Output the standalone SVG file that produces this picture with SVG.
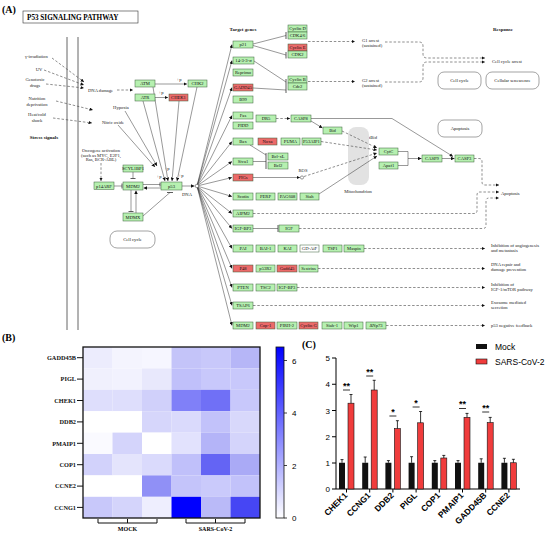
<svg xmlns="http://www.w3.org/2000/svg" width="550" height="540" viewBox="0 0 550 540">
<defs>
<marker id="ar" viewBox="0 0 6 6" refX="6" refY="3" markerWidth="3.5" markerHeight="3.5" markerUnits="userSpaceOnUse" orient="auto"><path d="M0,0L6,3L0,6z" fill="#111"/></marker>
<linearGradient id="cb" x1="0" y1="0" x2="0" y2="1"><stop offset="0" stop-color="#0000ff"/><stop offset="1" stop-color="#ffffff"/></linearGradient>
</defs>
<style>
.bx{stroke:#3a5f3a;stroke-width:0.5}
.g{fill:#b6f0b0}
.r{fill:#ec6a6a}
.w{fill:#ffffff}
.t{font-family:'Liberation Serif',serif;font-size:4.6px;text-anchor:middle;fill:#111}
.s{font-family:'Liberation Serif',serif;font-size:4.6px;fill:#222}
.sc{font-family:'Liberation Serif',serif;font-size:4.6px;fill:#222;text-anchor:middle}
.hd{font-family:'Liberation Serif',serif;font-size:5px;font-weight:bold;fill:#111;text-anchor:middle}
.ln{stroke:#333;stroke-width:0.5;fill:none}
.br{stroke:#333;stroke-width:0.8;fill:none}
.ds{stroke:#444;stroke-width:0.6;fill:none;stroke-dasharray:2.5,1.8}
.rb{fill:#fff;stroke:#666;stroke-width:0.6}
.pl{font-family:'Liberation Serif',serif;font-size:10px;font-weight:bold;fill:#000}
.gl{font-family:'Liberation Serif',serif;font-size:6.3px;font-weight:bold;fill:#111;text-anchor:end}
.ax{stroke:#000;stroke-width:1;fill:none}
.tk{font-family:'Liberation Sans',Arial,sans-serif;font-size:8px;fill:#000}
.xl{font-family:'Liberation Sans',Arial,sans-serif;font-size:8.5px;font-weight:bold;fill:#000;text-anchor:end}
.st{font-family:'Liberation Sans',Arial,sans-serif;font-size:9px;font-weight:bold;fill:#000;text-anchor:middle}
.bk{fill:#111}
.rd{fill:#f03c3c;stroke:#111;stroke-width:0.6}
.eb{stroke:#000;stroke-width:0.8;fill:none}
</style>
<rect width="550" height="540" fill="#fff"/>

<text class="pl" x="2" y="13">(A)</text>
<g id="title"><rect x="23" y="11" width="115" height="12" fill="#fff" stroke="#333" stroke-width="0.6"/><text x="27" y="20" font-family="'Liberation Serif',serif" font-size="7.2px" font-weight="bold">P53 SIGNALING PATHWAY</text></g>

<g id="membrane"><line x1="67" y1="37" x2="67" y2="330" stroke="#666" stroke-width="1"/><line x1="78" y1="37" x2="78" y2="330" stroke="#666" stroke-width="1"/></g>

<g id="labels">
<text class="hd" x="243" y="31">Target genes</text>
<text class="hd" x="503" y="31">Response</text>
<text class="hd" x="44" y="139">Stress signals</text>
<text class="s" x="25" y="58">γ-irradiation</text>
<text class="sc" x="39" y="71">UV</text>
<text class="sc" x="35" y="81">Genotoxic</text><text class="sc" x="35" y="87">drugs</text>
<text class="sc" x="37" y="100">Nutrition</text><text class="sc" x="37" y="106">deprivation</text>
<text class="sc" x="37" y="116">Heat/cold</text><text class="sc" x="37" y="122">shock</text>
<text class="s" x="88" y="92">DNA damage</text>
<text class="sc" x="121" y="109">Hypoxia</text>
<text class="sc" x="113" y="124">Nitric oxide</text>
<text class="sc" x="101" y="152">Oncogene activation</text>
<text class="sc" x="101" y="156.5">(such as MYC, E2F1,</text>
<text class="sc" x="101" y="161">Ras, BCR-ABL)</text>
<text class="sc" x="179" y="81">+p</text>
<text class="sc" x="161" y="94">+p</text>
<text class="sc" x="159" y="178">+p</text>
<text class="sc" x="167" y="170">+p</text>
<text class="sc" x="181" y="177">+p</text>
<text class="sc" x="187" y="196">DNA</text>
<text class="sc" x="303" y="172">ROS</text>
<text class="sc" x="373" y="139">tBid</text>
<text class="s" x="362" y="42">G1 arrest</text><text class="s" x="362" y="47">(sustained)</text>
<text class="s" x="362" y="82">G2 arrest</text><text class="s" x="362" y="87">(sustained)</text>
<text class="s" x="492" y="63">Cell cycle arrest</text>
<text class="s" x="501" y="195">Apoptosis</text>
<text class="s" x="491" y="247">Inhibition of angiogenesis</text><text class="s" x="491" y="252">and metastasis</text>
<text class="s" x="491" y="266">DNA repair and</text><text class="s" x="491" y="271">damage prevention</text>
<text class="s" x="491" y="285.5">Inhibition of</text><text class="s" x="491" y="290.5">IGF-1/mTOR pathway</text>
<text class="s" x="491" y="303.5">Exosome mediated</text><text class="s" x="491" y="308.5">secretion</text>
<text class="s" x="491" y="327">p53 negative feedback</text>
</g>

<g id="n-mito"><rect x="348" y="127" width="21" height="58" rx="8" fill="#e2e2e2"/><text class="sc" x="358" y="193">Mitochondrion</text></g>

<g id="connectors">
<line class="ds" x1="52" y1="58" x2="84" y2="82" marker-end="url(#ar)"/>
<line class="ds" x1="44" y1="70" x2="84" y2="85" marker-end="url(#ar)"/>
<line class="ds" x1="46" y1="84" x2="84" y2="88" marker-end="url(#ar)"/>
<line class="ds" x1="56" y1="101" x2="93" y2="110" marker-end="url(#ar)"/>
<line class="ds" x1="53" y1="118" x2="92" y2="123" marker-end="url(#ar)"/>
<line class="ds" x1="117" y1="90" x2="133" y2="90" marker-end="url(#ar)"/>
<line class="ln" x1="125" y1="111" x2="157" y2="166" marker-end="url(#ar)"/>
<line class="ln" x1="118" y1="125" x2="155" y2="167" marker-end="url(#ar)"/>
<line class="ln" x1="153" y1="87" x2="168" y2="181" marker-end="url(#ar)"/>
<line class="ln" x1="143" y1="101" x2="165" y2="181" marker-end="url(#ar)"/>
<line class="ln" x1="179" y1="101" x2="172" y2="181" marker-end="url(#ar)"/>
<line class="ln" x1="197" y1="87" x2="177" y2="181" marker-end="url(#ar)"/>
<line class="ln" x1="155" y1="84" x2="187" y2="84" marker-end="url(#ar)"/>
<line class="ln" x1="155" y1="97.5" x2="168" y2="97.5" marker-end="url(#ar)"/>
<line class="ds" x1="101" y1="163" x2="101" y2="181" marker-end="url(#ar)"/>
<path class="ln" d="M114,186H122"/><path class="br" d="M122,183.5V188.5"/>
<path class="ln" d="M133,172V178.5"/><path class="br" d="M130.5,178.5H135.5"/>
<path class="ln" d="M143,184.5H160"/><path class="br" d="M160,182.5V186.5"/>
<line class="ln" x1="161" y1="188" x2="143.5" y2="188" marker-end="url(#ar)"/>
<path class="ln" d="M131,190V211.5"/><path class="br" d="M128.5,211.5H133.5"/>
<line class="ln" x1="136" y1="213" x2="136" y2="190.5" marker-end="url(#ar)"/>
<path class="ln" d="M143,216L170,192.5"/><path class="br" d="M167,192.5H173"/>
<line class="ln" x1="182" y1="186" x2="194.5" y2="186" marker-end="url(#ar)"/>
<g>
<line class="ln" x1="197" y1="186" x2="232" y2="44.5" marker-end="url(#ar)"/>
<line class="ln" x1="197" y1="186" x2="232" y2="60.5" marker-end="url(#ar)"/>
<line class="ln" x1="197" y1="186" x2="232" y2="87.5" marker-end="url(#ar)"/>
<line class="ln" x1="197" y1="186" x2="232" y2="115.5" marker-end="url(#ar)"/>
<line class="ln" x1="197" y1="186" x2="232" y2="141.5" marker-end="url(#ar)"/>
<line class="ln" x1="197" y1="186" x2="232" y2="161.5" marker-end="url(#ar)"/>
<line class="ln" x1="197" y1="186" x2="232" y2="177.5" marker-end="url(#ar)"/>
<line class="ln" x1="197" y1="186" x2="232" y2="196.5" marker-end="url(#ar)"/>
<line class="ln" x1="197" y1="186" x2="232" y2="213.5" marker-end="url(#ar)"/>
<line class="ln" x1="197" y1="186" x2="232" y2="228.5" marker-end="url(#ar)"/>
<line class="ln" x1="197" y1="186" x2="232" y2="248.5" marker-end="url(#ar)"/>
<line class="ln" x1="197" y1="186" x2="232" y2="268.5" marker-end="url(#ar)"/>
<line class="ln" x1="197" y1="186" x2="232" y2="287.5" marker-end="url(#ar)"/>
<line class="ln" x1="197" y1="186" x2="232" y2="305.5" marker-end="url(#ar)"/>
<line class="ln" x1="197" y1="186" x2="232" y2="325.5" marker-end="url(#ar)"/>
</g>
<path class="ln" d="M253,44L286,35.5M253,45.5L286,55M254,61L286,82M253,88L286,90"/>
<path class="br" d="M286,32V39M286,52V58.5M286,79V93"/>
<line class="ds" x1="308" y1="41.5" x2="355" y2="41.5" marker-end="url(#ar)"/>
<line class="ds" x1="308" y1="81.5" x2="355" y2="81.5" marker-end="url(#ar)"/>
<path class="ds" d="M385,42H419Q423,42 423,46V54Q423,58 427,58H485" marker-end="url(#ar)"/>
<path class="ds" d="M385,82H419Q423,82 423,78V66Q423,62 427,62H485" marker-end="url(#ar)"/>
<line class="ds" x1="276" y1="118.5" x2="290" y2="118.5" marker-end="url(#ar)"/>
<path class="ln" d="M311,118.5H392L453,156.5" marker-end="url(#ar)"/>
<line class="ln" x1="311" y1="121" x2="322.5" y2="128" marker-end="url(#ar)"/>
<line class="ds" x1="342" y1="131" x2="377" y2="148" marker-end="url(#ar)"/>
<line class="ds" x1="321" y1="141.5" x2="377" y2="150" marker-end="url(#ar)"/>
<line class="ds" x1="304" y1="176.5" x2="377" y2="153" marker-end="url(#ar)"/>
<line class="ln" x1="319" y1="194" x2="377" y2="156" marker-end="url(#ar)"/>
<line class="ln" x1="253" y1="177.5" x2="300" y2="177.5" marker-end="url(#ar)"/>
<circle cx="302" cy="177.5" r="1.6" fill="#fff" stroke="#333" stroke-width="0.5"/>
<circle cx="197" cy="186" r="1.8" fill="#fff" stroke="#333" stroke-width="0.5"/>
<path class="ln" d="M250,145L266,155M253,161.5H266"/>
<path class="br" d="M266,153V169"/>
<path class="ln" d="M398,151.5H408V165.5H398"/>
<line class="ln" x1="408" y1="158.5" x2="421.5" y2="158.5" marker-end="url(#ar)"/>
<line class="ln" x1="442" y1="158.5" x2="454.5" y2="158.5" marker-end="url(#ar)"/>
<path class="ds" d="M474,158.5H479Q482,158.5 482,161.5V182Q482,185 485,185H499" marker-end="url(#ar)"/>
<path class="ds" d="M253,213.5H474Q477,213.5 477,210.5V195Q477,192 480,192H499" marker-end="url(#ar)"/>
<path class="ln" d="M253,228.5H278"/><path class="br" d="M278,225V232"/>
<path class="ds" d="M299,228.5H483Q486,228.5 486,225.5V201Q486,198 489,198H499" marker-end="url(#ar)"/>
<line class="ds" x1="364" y1="248.5" x2="485" y2="248.5" marker-end="url(#ar)"/>
<line class="ds" x1="318" y1="268.5" x2="485" y2="268.5" marker-end="url(#ar)"/>
<line class="ds" x1="297" y1="287.5" x2="485" y2="287.5" marker-end="url(#ar)"/>
<line class="ds" x1="253" y1="305.5" x2="485" y2="305.5" marker-end="url(#ar)"/>
<line class="ds" x1="386" y1="325.5" x2="485" y2="325.5" marker-end="url(#ar)"/>
</g>

<g id="n-ATM"><rect class="bx g" x="135" y="80" width="20" height="7"/><text class="t" x="145" y="85.3">ATM</text></g>
<g id="n-ATR"><rect class="bx g" x="135" y="94" width="20" height="7"/><text class="t" x="145" y="99.3">ATR</text></g>
<g id="n-CHEK1"><rect class="bx r" x="169" y="94" width="19" height="7"/><text class="t" x="178.5" y="99.3">CHEK1</text></g>
<g id="n-CHK2"><rect class="bx g" x="188" y="80" width="19" height="7"/><text class="t" x="197.5" y="85.3">CHK2</text></g>
<g id="n-p14ARF"><rect class="bx g" x="94" y="182" width="20" height="7.5"/><text class="t" x="104" y="187.5">p14ARF</text></g>
<g id="n-MDM2a"><rect class="bx g" x="123" y="182" width="20" height="8"/><text class="t" x="133" y="187.6">MDM2</text></g>
<g id="n-SCYL1BP1"><rect class="bx g" x="123" y="165" width="20" height="7"/><text class="t" x="133" y="170.3">SCYL1BP1</text></g>
<g id="n-MDMX"><rect class="bx g" x="123" y="213" width="20" height="8"/><text class="t" x="133" y="218.6">MDMX</text></g>
<g id="n-p53"><rect class="bx g" x="161" y="182" width="21" height="8"/><text class="t" x="171.5" y="187.6">p53</text></g>
<g id="n-cellcycle1"><rect class="rb" x="110" y="231" width="45" height="17" rx="7"/><text class="t" x="132.5" y="241">Cell cycle</text></g>

<g id="n-CyclinD"><rect class="bx g" x="288" y="25" width="19" height="7"/><text class="t" x="297.5" y="30.3">Cyclin D</text></g>
<g id="n-CDK46"><rect class="bx g" x="288" y="32" width="19" height="7"/><text class="t" x="297.5" y="37.3">CDK4/6</text></g>
<g id="n-CyclinE"><rect class="bx r" x="288" y="44" width="19" height="7"/><text class="t" x="297.5" y="49.3">Cyclin E</text></g>
<g id="n-CDK2"><rect class="bx g" x="288" y="51" width="19" height="7"/><text class="t" x="297.5" y="56.3">CDK2</text></g>
<g id="n-CyclinB"><rect class="bx g" x="288" y="76" width="19" height="7"/><text class="t" x="297.5" y="81.3">Cyclin B</text></g>
<g id="n-Cdc2"><rect class="bx g" x="288" y="83" width="19" height="7"/><text class="t" x="297.5" y="88.3">Cdc2</text></g>
<g id="n-cellcycle2"><rect class="rb" x="438" y="72" width="43" height="17" rx="6"/><text class="t" x="459.5" y="82">Cell cycle</text></g>
<g id="n-senescence"><rect class="rb" x="486" y="72" width="53" height="17" rx="6"/><text class="t" x="512.5" y="82">Cellular senescence</text></g>
<g id="n-apoptosisbox"><rect class="rb" x="438" y="120" width="44" height="17" rx="6"/><text class="t" x="460" y="130">Apoptosis</text></g>

<g id="n-p21"><rect class="bx g" x="233" y="41" width="20" height="7"/><text class="t" x="243" y="46.3">p21</text></g>
<g id="n-1433"><rect class="bx g" x="233" y="57" width="21" height="7"/><text class="t" x="243.5" y="62.3">14-3-3-σ</text></g>
<g id="n-Reprimo"><rect class="bx g" x="233" y="69" width="20" height="7"/><text class="t" x="243" y="74.3">Reprimo</text></g>
<g id="n-GADD45"><rect class="bx r" x="233" y="84" width="20" height="7"/><text class="t" x="243" y="89.3">GADD45</text></g>
<g id="n-B99"><rect class="bx g" x="233" y="96" width="20" height="7"/><text class="t" x="243" y="101.3">B99</text></g>
<g id="n-Fas"><rect class="bx g" x="233" y="112" width="20" height="7"/><text class="t" x="243" y="117.3">Fas</text></g>
<g id="n-PIDD"><rect class="bx g" x="233" y="122" width="20" height="7"/><text class="t" x="243" y="127.3">PIDD</text></g>
<g id="n-DR5"><rect class="bx g" x="256" y="115" width="20" height="7"/><text class="t" x="266" y="120.3">DR5</text></g>
<g id="n-CASP8"><rect class="bx g" x="291" y="115" width="20" height="7"/><text class="t" x="301" y="120.3">CASP8</text></g>
<g id="n-Bid"><rect class="bx g" x="323" y="127" width="19" height="7"/><text class="t" x="332.5" y="132.3">Bid</text></g>
<g id="n-Bax"><rect class="bx g" x="233" y="138" width="20" height="7"/><text class="t" x="243" y="143.3">Bax</text></g>
<g id="n-Noxa"><rect class="bx r" x="258" y="138" width="19" height="7"/><text class="t" x="267.5" y="143.3">Noxa</text></g>
<g id="n-PUMA"><rect class="bx g" x="281" y="138" width="19" height="7"/><text class="t" x="290.5" y="143.3">PUMA</text></g>
<g id="n-P53AIP1"><rect class="bx g" x="302" y="138" width="19" height="7"/><text class="t" x="311.5" y="143.3">P53AIP1</text></g>
<g id="n-Siva"><rect class="bx g" x="233" y="158" width="20" height="7"/><text class="t" x="243" y="163.3">Siva1</text></g>
<g id="n-BclxL"><rect class="bx g" x="268" y="153" width="20" height="7"/><text class="t" x="278" y="158.3">Bcl-xL</text></g>
<g id="n-Bcl2"><rect class="bx g" x="268" y="162" width="20" height="7"/><text class="t" x="278" y="167.3">Bcl2</text></g>
<g id="n-PIGs"><rect class="bx r" x="233" y="174" width="20" height="7"/><text class="t" x="243" y="179.3">PIGs</text></g>
<g id="n-CytC"><rect class="bx g" x="379" y="148" width="19" height="7"/><text class="t" x="388.5" y="153.3">CytC</text></g>
<g id="n-Apaf1"><rect class="bx g" x="379" y="162" width="19" height="7"/><text class="t" x="388.5" y="167.3">Apaf1</text></g>
<g id="n-CASP9"><rect class="bx g" x="422" y="155" width="20" height="7"/><text class="t" x="432" y="160.3">CASP9</text></g>
<g id="n-CASP3"><rect class="bx g" x="455" y="155" width="19" height="7"/><text class="t" x="464.5" y="160.3">CASP3</text></g>
<g id="n-Scotin"><rect class="bx g" x="233" y="193" width="20" height="7"/><text class="t" x="243" y="198.3">Scotin</text></g>
<g id="n-PERP"><rect class="bx g" x="256" y="193" width="19" height="7"/><text class="t" x="265.5" y="198.3">PERP</text></g>
<g id="n-PAG608"><rect class="bx g" x="278" y="193" width="19" height="7"/><text class="t" x="287.5" y="198.3">PAG608</text></g>
<g id="n-Siah"><rect class="bx g" x="300" y="193" width="19" height="7"/><text class="t" x="309.5" y="198.3">Siah</text></g>
<g id="n-AIPM2"><rect class="bx g" x="233" y="210" width="20" height="7"/><text class="t" x="243" y="215.3">AIPM2</text></g>
<g id="n-IGFBP3a"><rect class="bx g" x="233" y="225" width="20" height="7"/><text class="t" x="243" y="230.3">IGF-BP3</text></g>
<g id="n-IGF"><rect class="bx g" x="279" y="225" width="20" height="7"/><text class="t" x="289" y="230.3">IGF</text></g>
<g id="n-PAI"><rect class="bx g" x="233" y="245" width="20" height="7"/><text class="t" x="243" y="250.3">PAI</text></g>
<g id="n-BAI1"><rect class="bx g" x="256" y="245" width="19" height="7"/><text class="t" x="265.5" y="250.3">BAI-1</text></g>
<g id="n-KAI"><rect class="bx g" x="278" y="245" width="19" height="7"/><text class="t" x="287.5" y="250.3">KAI</text></g>
<g id="n-GDAiF"><rect class="bx w" x="300" y="245" width="19" height="7"/><text class="t" x="309.5" y="250.3">GD-AiF</text></g>
<g id="n-TSP1"><rect class="bx g" x="323" y="245" width="19" height="7"/><text class="t" x="332.5" y="250.3">TSP1</text></g>
<g id="n-Maspin"><rect class="bx g" x="344" y="245" width="20" height="7"/><text class="t" x="354" y="250.3">Maspin</text></g>
<g id="n-P48"><rect class="bx r" x="233" y="265" width="20" height="7"/><text class="t" x="243" y="270.3">P48</text></g>
<g id="n-p53R2"><rect class="bx g" x="256" y="265" width="19" height="7"/><text class="t" x="265.5" y="270.3">p53R2</text></g>
<g id="n-Gadd45b"><rect class="bx r" x="277" y="265" width="20" height="7"/><text class="t" x="287" y="270.3">Gadd45</text></g>
<g id="n-Sestrins"><rect class="bx g" x="299" y="265" width="19" height="7"/><text class="t" x="308.5" y="270.3">Sestrins</text></g>
<g id="n-PTEN"><rect class="bx g" x="233" y="284" width="20" height="7"/><text class="t" x="243" y="289.3">PTEN</text></g>
<g id="n-TSC2"><rect class="bx g" x="256" y="284" width="19" height="7"/><text class="t" x="265.5" y="289.3">TSC2</text></g>
<g id="n-IGFBP3b"><rect class="bx g" x="277" y="284" width="20" height="7"/><text class="t" x="287" y="289.3">IGF-BP3</text></g>
<g id="n-TSAP6"><rect class="bx g" x="233" y="302" width="20" height="7"/><text class="t" x="243" y="307.3">TSAP6</text></g>
<g id="n-MDM2b"><rect class="bx g" x="233" y="322" width="20" height="7"/><text class="t" x="243" y="327.3">MDM2</text></g>
<g id="n-Cop1"><rect class="bx r" x="256" y="322" width="19" height="7"/><text class="t" x="265.5" y="327.3">Cop-1</text></g>
<g id="n-PIRH2"><rect class="bx g" x="277" y="322" width="20" height="7"/><text class="t" x="287" y="327.3">PIRH-2</text></g>
<g id="n-CyclinG"><rect class="bx r" x="299" y="322" width="19" height="7"/><text class="t" x="308.5" y="327.3">Cyclin G</text></g>
<g id="n-Siah1"><rect class="bx g" x="322" y="322" width="20" height="7"/><text class="t" x="332" y="327.3">Siah-1</text></g>
<g id="n-Wip1"><rect class="bx g" x="344" y="322" width="19" height="7"/><text class="t" x="353.5" y="327.3">Wip1</text></g>
<g id="n-dNp73"><rect class="bx g" x="366" y="322" width="20" height="7"/><text class="t" x="376" y="327.3">ΔNp73</text></g>

<text class="pl" x="2" y="341">(B)</text>
<g id="heatmap">
<g>
<rect x="83" y="347" width="29.5" height="21.4" fill="#ececfd"/><rect x="112.5" y="347" width="29.5" height="21.4" fill="#f4f4fe"/><rect x="142" y="347" width="29.5" height="21.4" fill="#f6f6ff"/><rect x="171.5" y="347" width="29.5" height="21.4" fill="#c4c4f9"/><rect x="201" y="347" width="29.5" height="21.4" fill="#c8c8fa"/><rect x="230.5" y="347" width="29.5" height="21.4" fill="#b6b6f7"/>
<rect x="83" y="368.4" width="29.5" height="21.4" fill="#f0f0fd"/><rect x="112.5" y="368.4" width="29.5" height="21.4" fill="#f2f2fe"/><rect x="142" y="368.4" width="29.5" height="21.4" fill="#e8e8fc"/><rect x="171.5" y="368.4" width="29.5" height="21.4" fill="#c0c0fa"/><rect x="201" y="368.4" width="29.5" height="21.4" fill="#c8c8fb"/><rect x="230.5" y="368.4" width="29.5" height="21.4" fill="#c8c8fb"/>
<rect x="83" y="389.8" width="29.5" height="21.4" fill="#dedefc"/><rect x="112.5" y="389.8" width="29.5" height="21.4" fill="#dedefc"/><rect x="142" y="389.8" width="29.5" height="21.4" fill="#d0d0fa"/><rect x="171.5" y="389.8" width="29.5" height="21.4" fill="#8080f8"/><rect x="201" y="389.8" width="29.5" height="21.4" fill="#7070f6"/><rect x="230.5" y="389.8" width="29.5" height="21.4" fill="#c8c8fb"/>
<rect x="83" y="411.2" width="29.5" height="21.4" fill="#ffffff"/><rect x="112.5" y="411.2" width="29.5" height="21.4" fill="#ffffff"/><rect x="142" y="411.2" width="29.5" height="21.4" fill="#d6d6fb"/><rect x="171.5" y="411.2" width="29.5" height="21.4" fill="#dadafc"/><rect x="201" y="411.2" width="29.5" height="21.4" fill="#c2c2fa"/><rect x="230.5" y="411.2" width="29.5" height="21.4" fill="#d8d8fb"/>
<rect x="83" y="432.6" width="29.5" height="21.4" fill="#fafaff"/><rect x="112.5" y="432.6" width="29.5" height="21.4" fill="#d4d4fb"/><rect x="142" y="432.6" width="29.5" height="21.4" fill="#ffffff"/><rect x="171.5" y="432.6" width="29.5" height="21.4" fill="#e2e2fd"/><rect x="201" y="432.6" width="29.5" height="21.4" fill="#b4b4f8"/><rect x="230.5" y="432.6" width="29.5" height="21.4" fill="#d4d4fb"/>
<rect x="83" y="454" width="29.5" height="21.4" fill="#d2d2fb"/><rect x="112.5" y="454" width="29.5" height="21.4" fill="#e4e4fc"/><rect x="142" y="454" width="29.5" height="21.4" fill="#dadafc"/><rect x="171.5" y="454" width="29.5" height="21.4" fill="#c0c0fa"/><rect x="201" y="454" width="29.5" height="21.4" fill="#6464f4"/><rect x="230.5" y="454" width="29.5" height="21.4" fill="#aaaaf6"/>
<rect x="83" y="475.4" width="29.5" height="21.4" fill="#ffffff"/><rect x="112.5" y="475.4" width="29.5" height="21.4" fill="#ffffff"/><rect x="142" y="475.4" width="29.5" height="21.4" fill="#9090f6"/><rect x="171.5" y="475.4" width="29.5" height="21.4" fill="#c4c4fa"/><rect x="201" y="475.4" width="29.5" height="21.4" fill="#cacafb"/><rect x="230.5" y="475.4" width="29.5" height="21.4" fill="#c2c2fa"/>
<rect x="83" y="496.8" width="29.5" height="21.2" fill="#c8c8fa"/><rect x="112.5" y="496.8" width="29.5" height="21.2" fill="#d4d4fb"/><rect x="142" y="496.8" width="29.5" height="21.2" fill="#eeeefe"/><rect x="171.5" y="496.8" width="29.5" height="21.2" fill="#0000ff"/><rect x="201" y="496.8" width="29.5" height="21.2" fill="#babaf8"/><rect x="230.5" y="496.8" width="29.5" height="21.2" fill="#4646f4"/>
</g>
<rect x="83" y="347" width="177" height="171" fill="none" stroke="#111" stroke-width="1.3"/>
<path d="M77,357.7H83M77,379.1H83M77,400.5H83M77,421.9H83M77,443.3H83M77,464.7H83M77,486.1H83M77,507.4H83" stroke="#111" stroke-width="1"/>
<text class="gl" x="76" y="360">GADD45B</text>
<text class="gl" x="76" y="381.4">PIGL</text>
<text class="gl" x="76" y="402.8">CHEK1</text>
<text class="gl" x="76" y="424.2">DDB2</text>
<text class="gl" x="76" y="445.6">PMAIP1</text>
<text class="gl" x="76" y="467">COP1</text>
<text class="gl" x="76" y="488.4">CCNE2</text>
<text class="gl" x="76" y="509.7">CCNG1</text>
<path d="M98,519V523H157V519M127.5,523V519M186,519V523H245V519M215.5,523V519" fill="none" stroke="#111" stroke-width="1"/>
<text x="127.5" y="531" font-family="'Liberation Serif',serif" font-size="6px" font-weight="bold" text-anchor="middle">MOCK</text>
<text x="215.5" y="531" font-family="'Liberation Serif',serif" font-size="6px" font-weight="bold" text-anchor="middle">SARS-CoV-2</text>
<rect x="276" y="347" width="8" height="171" fill="url(#cb)" stroke="#111" stroke-width="0.8"/>
<path d="M284,360.5H287M284,413H287M284,465.5H287M284,518H287" stroke="#111" stroke-width="0.8"/>
<text class="tk" x="292" y="363.5">6</text>
<text class="tk" x="292" y="416">4</text>
<text class="tk" x="292" y="468.5">2</text>
<text class="tk" x="292" y="521">0</text>
</g>

<text class="pl" x="302" y="348">(C)</text>
<g id="barchart">
<path class="ax" d="M336,358V489H520"/>
<path d="M332,358H336M332,384.25H336M332,410.5H336M332,436.75H336M332,463H336M332,489H336" stroke="#000" stroke-width="1"/>
<text class="tk" x="330" y="361" text-anchor="end">5</text>
<text class="tk" x="330" y="387.2" text-anchor="end">4</text>
<text class="tk" x="330" y="413.5" text-anchor="end">3</text>
<text class="tk" x="330" y="439.7" text-anchor="end">2</text>
<text class="tk" x="330" y="466" text-anchor="end">1</text>
<text class="tk" x="330" y="492" text-anchor="end">0</text>
<path d="M346.5,489V492.5M369.7,489V492.5M392.9,489V492.5M416.1,489V492.5M439.3,489V492.5M462.5,489V492.5M485.7,489V492.5M508.9,489V492.5" stroke="#000" stroke-width="1"/>
<g class="bk">
<rect x="339" y="462.75" width="6" height="26.25"/>
<rect x="362.2" y="462.75" width="6" height="26.25"/>
<rect x="385.4" y="462.75" width="6" height="26.25"/>
<rect x="408.6" y="462.75" width="6" height="26.25"/>
<rect x="431.8" y="462.75" width="6" height="26.25"/>
<rect x="455" y="462.75" width="6" height="26.25"/>
<rect x="478.2" y="462.75" width="6" height="26.25"/>
<rect x="501.4" y="462.75" width="6" height="26.25"/>
</g>
<path class="eb" d="M342,462.75V459.6M340.5,459.6H343.5M365.2,462.75V457M363.7,457H366.7M388.4,462.75V460.6M386.9,460.6H389.9M411.6,462.75V456.7M410.1,456.7H413.1M434.8,462.75V460.6M433.3,460.6H436.3M458,462.75V460.6M456.5,460.6H459.5M481.2,462.75V458.8M479.7,458.8H482.7M504.4,462.75V458.3M502.9,458.3H505.9"/>
<g class="rd">
<rect x="348" y="403.2" width="6" height="85.8"/>
<rect x="371.2" y="390" width="6" height="99"/>
<rect x="394.4" y="428.6" width="6" height="60.4"/>
<rect x="417.6" y="422.8" width="6" height="66.2"/>
<rect x="440.8" y="458" width="6" height="31"/>
<rect x="464" y="417.3" width="6" height="71.7"/>
<rect x="487.2" y="422.6" width="6" height="66.4"/>
<rect x="510.4" y="462.75" width="6" height="26.25"/>
</g>
<path class="eb" d="M351,403.2V394.5M349.5,394.5H352.5M374.2,390V380.3M372.7,380.3H375.7M397.4,428.6V420.7M395.9,420.7H398.9M420.6,422.8V411.5M419.1,411.5H422.1M443.8,458V455.4M442.3,455.4H445.3M467,417.3V413.4M465.5,413.4H468.5M490.2,422.6V417.4M488.7,417.4H491.7M513.4,462.75V459.3M511.9,459.3H514.9"/>
<path d="M343,390H350M366.2,376H373.2M389.4,416H396.4M412.6,407H419.6M459,408.5H466M482.2,412H489.2" stroke="#000" stroke-width="0.8"/>
<text class="st" x="346.5" y="388.5">**</text>
<text class="st" x="369.7" y="374.5">**</text>
<text class="st" x="392.9" y="414.5">*</text>
<text class="st" x="416.1" y="405.5">*</text>
<text class="st" x="462.5" y="407">**</text>
<text class="st" x="485.7" y="410.5">**</text>
<text class="xl" transform="translate(348,496) rotate(-45)">CHEK1</text>
<text class="xl" transform="translate(371.2,496) rotate(-45)">CCNG1</text>
<text class="xl" transform="translate(394.4,496) rotate(-45)">DDB2</text>
<text class="xl" transform="translate(417.6,496) rotate(-45)">PIGL</text>
<text class="xl" transform="translate(440.8,496) rotate(-45)">COP1</text>
<text class="xl" transform="translate(464,496) rotate(-45)">PMAIP1</text>
<text class="xl" transform="translate(487.2,496) rotate(-45)">GADD45B</text>
<text class="xl" transform="translate(510.4,496) rotate(-45)">CCNE2</text>
<rect x="476" y="344" width="11" height="5" fill="#111"/>
<text x="495" y="350" font-family="'Liberation Sans',Arial,sans-serif" font-size="8.5px">Mock</text>
<rect x="476" y="359" width="11" height="5" class="rd"/>
<text x="495" y="365" font-family="'Liberation Sans',Arial,sans-serif" font-size="8.5px">SARS-CoV-2</text>
</g>
</svg>
